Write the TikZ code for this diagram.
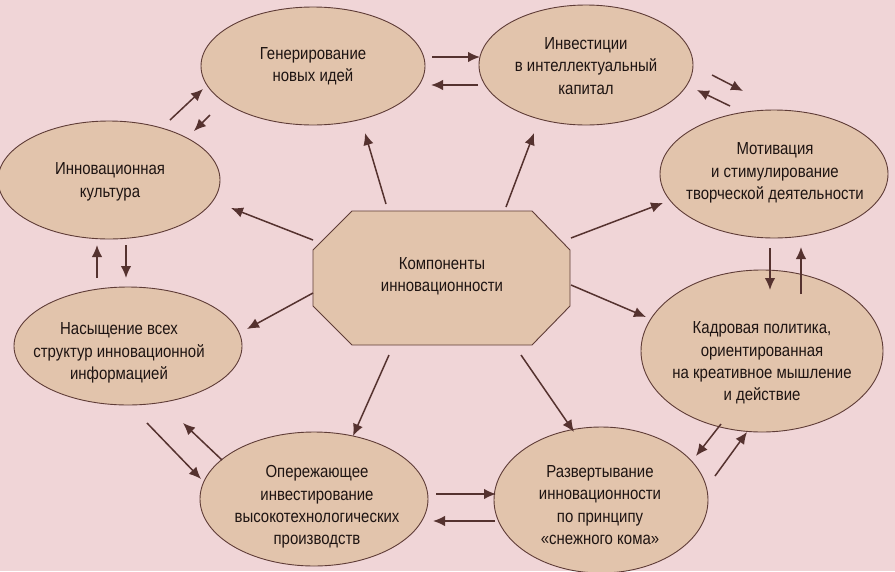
\documentclass[tikz,border=0pt]{standalone}
\usepackage{fontspec}
\setmainfont{Liberation Sans}[FakeStretch=0.86]
\usetikzlibrary{shapes.geometric,arrows.meta}
\definecolor{bg}{RGB}{240,213,215}
\definecolor{fillc}{RGB}{226,196,172}
\definecolor{edge}{RGB}{95,60,55}
\definecolor{arr}{RGB}{85,50,47}
\definecolor{txt}{RGB}{30,20,18}
\begin{document}
\begin{tikzpicture}[x=1pt,y=-1pt,
  comp/.style={ellipse, draw=edge, fill=fillc, line width=0.9pt, inner sep=0pt},
  lbl/.style={align=center, font=\fontsize{17.4}{22.4}\selectfont, text=txt, inner sep=0pt},
  link/.style={draw=arr, line width=1.5pt, -{Latex[length=12pt,width=10.5pt]}}]
\fill[bg] (0,0) rectangle (895,571);
\useasboundingbox (0,0) rectangle (895,571);

\node[comp, minimum width=224pt, minimum height=118pt] (gen) at (313,66) {};
\node[comp, minimum width=214pt, minimum height=120pt] (inv) at (586,65) {};
\node[comp, minimum width=222pt, minimum height=118pt] (cult) at (109,180) {};
\node[comp, minimum width=228pt, minimum height=128pt] (mot) at (774,174) {};
\node[comp, minimum width=228pt, minimum height=118pt] (nas) at (128,346) {};
\node[comp, minimum width=242pt, minimum height=162pt] (kad) at (762,351) {};
\node[comp, minimum width=228pt, minimum height=134pt] (op) at (314,499) {};
\node[comp, minimum width=214pt, minimum height=146pt] (raz) at (601,500) {};

\node[lbl] (genT) at (313,66) {Генерирование\\новых идей};
\node[lbl] (invT) at (586,66) {Инвестиции\\в интеллектуальный\\капитал};
\node[lbl] (cultT) at (110,182) {Инновационная\\культура};
\node[lbl] (motT) at (775,173) {Мотивация\\и стимулирование\\творческой деятельности};
\node[lbl] (nasT) at (119,353) {Насыщение всех\\структур инновационной\\информацией};
\node[lbl] (kadT) at (762,363) {Кадровая политика,\\ориентированная\\на креативное мышление\\и действие};
\node[lbl] (opT) at (317,507) {Опережающее\\инвестирование\\высокотехнологических\\производств};
\node[lbl] (razT) at (600,505) {Развертывание\\инновационности\\по принципу\\«снежного кома»};

\filldraw[draw=edge, fill=fillc, line width=0.9pt]
  (352,211) -- (532,211) -- (570,250) -- (570,306) -- (532,345) -- (352,345) -- (313,306) -- (313,250) -- cycle;
\node[lbl] (core) at (442,276) {Компоненты\\инновационности};

% coordinates for arrows from the core
\coordinate (c1s) at (386,204); \coordinate (c1e) at (365,133);
\coordinate (c2s) at (506,207); \coordinate (c2e) at (534,133);
\coordinate (c3s) at (313,240); \coordinate (c3e) at (231,208);
\coordinate (c4s) at (571,238); \coordinate (c4e) at (663,203);
\coordinate (c5s) at (313,293); \coordinate (c5e) at (247,329);
\coordinate (c6s) at (571,285); \coordinate (c6e) at (646,317);
\coordinate (c7s) at (389,355); \coordinate (c7e) at (353,436);
\coordinate (c8s) at (521,355); \coordinate (c8e) at (574,432);
\foreach \i in {1,...,8} \draw[link] (c\i s) -- (c\i e);

% pairs between neighbours
\coordinate (p1s) at (432,57); \coordinate (p1e) at (480,57);
\coordinate (p2s) at (478,85); \coordinate (p2e) at (431,85);
\coordinate (p3s) at (712,75); \coordinate (p3e) at (743,91);
\coordinate (p4s) at (730,106); \coordinate (p4e) at (697,90);
\coordinate (p5s) at (770,248); \coordinate (p5e) at (770,290);
\coordinate (p6s) at (801,294); \coordinate (p6e) at (801,247);
\coordinate (p7s) at (721,424); \coordinate (p7e) at (696,456);
\coordinate (p8s) at (715,476); \coordinate (p8e) at (747,432);
\coordinate (p9s) at (436,494); \coordinate (p9e) at (496,494);
\coordinate (p10s) at (495,521); \coordinate (p10e) at (433,521);
\coordinate (p11s) at (147,423); \coordinate (p11e) at (201,479);
\coordinate (p12s) at (222,460); \coordinate (p12e) at (183,423);
\coordinate (p13s) at (97,278); \coordinate (p13e) at (97,245);
\coordinate (p14s) at (126,245); \coordinate (p14e) at (126,278);
\coordinate (p15s) at (170,120); \coordinate (p15e) at (203,89);
\coordinate (p16s) at (210,115); \coordinate (p16e) at (194,131);
\foreach \i in {1,...,16} \draw[link] (p\i s) -- (p\i e);
\end{tikzpicture}
\end{document}
